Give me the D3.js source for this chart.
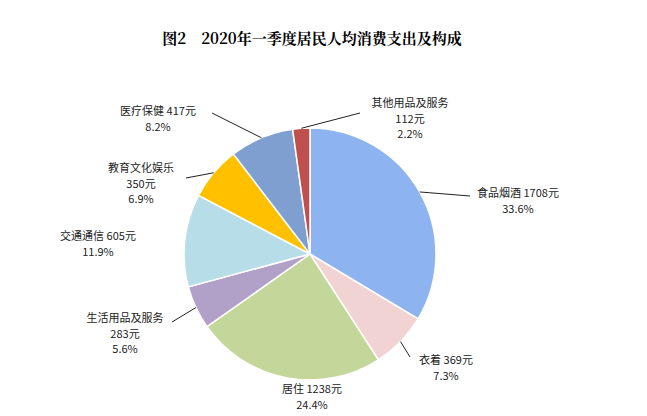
<!DOCTYPE html>
<html><head><meta charset="utf-8">
<script src="https://cdn.jsdelivr.net/npm/d3@7"></script>
<style>body{margin:0;background:#fff}</style>
</head><body>
<svg id="chart" width="647" height="416"></svg>
<script>
// data
var categories = ["食品烟酒","衣着","居住","生活用品及服务","交通通信","教育文化娱乐","医疗保健","其他用品及服务"];
var amounts = [1708, 369, 1238, 283, 605, 350, 417, 112];
var shares = ["33.6%","7.3%","24.4%","5.6%","11.9%","6.9%","8.2%","2.2%"];
var colors = ["#8DB3F0","#F2D3D3","#C4D79B","#B1A0C7","#B7DEE8","#FFC000","#7E9FD0","#C0504D"];

// label layout: lines of text, anchor point, leader end point
var labelLayout = [
  {lines: [categories[0]+" "+amounts[0]+"元", shares[0]], x: 518, y: 197, end: [470, 196]},
  {lines: [categories[1]+" "+amounts[1]+"元", shares[1]], x: 446, y: 364, end: [410, 357]},
  {lines: [categories[2]+" "+amounts[2]+"元", shares[2]], x: 312, y: 393, end: null},
  {lines: [categories[3], amounts[3]+"元", shares[3]], x: 125, y: 322, end: [172, 322]},
  {lines: [categories[4]+" "+amounts[4]+"元", shares[4]], x: 98, y: 240, end: null},
  {lines: [categories[5], amounts[5]+"元", shares[5]], x: 141, y: 172, end: [186, 178]},
  {lines: [categories[6]+" "+amounts[6]+"元", shares[6]], x: 158, y: 115, end: [212, 113]},
  {lines: [categories[7], amounts[7]+"元", shares[7]], x: 410, y: 107, end: [360, 113]}
];

var svg = d3.select("#chart");
var cx = 310, cy = 254, r = 126;

svg.append("text")
  .attr("x", 312).attr("y", 44)
  .attr("text-anchor", "middle")
  .style("font-family", "'Noto Serif CJK SC','Noto Sans CJK SC',serif")
  .style("font-weight", "bold").style("font-size", "15px")
  .text("图2　2020年一季度居民人均消费支出及构成");

var pie = d3.pie().sort(null).value(d => d);
var arcs = pie(amounts);
var arc = d3.arc().innerRadius(0).outerRadius(r);
var edge = d3.arc().innerRadius(r).outerRadius(r);

var g = svg.append("g").attr("transform", `translate(${cx},${cy})`);
g.selectAll("path").data(arcs).enter().append("path")
  .attr("d", arc)
  .attr("fill", (d, i) => colors[i])
  .attr("stroke", "#fff").attr("stroke-width", 1.5);

// leader lines
g.selectAll("line").data(arcs.filter(d => labelLayout[d.index].end)).enter()
  .append("line")
  .attr("x1", d => edge.centroid(d)[0])
  .attr("y1", d => edge.centroid(d)[1])
  .attr("x2", d => labelLayout[d.index].end[0] - cx)
  .attr("y2", d => labelLayout[d.index].end[1] - cy)
  .attr("stroke", "#222").attr("stroke-width", 1);

labelLayout.forEach(function(l) {
  var t = svg.append("text")
    .attr("text-anchor", "middle")
    .style("font-family", "'Noto Sans CJK SC',sans-serif")
    .style("font-size", "11px").attr("fill", "#222");
  l.lines.forEach(function(s, j) {
    t.append("tspan").attr("x", l.x).attr("y", l.y + j * 15.5).text(s);
  });
});
</script>
</body></html>
